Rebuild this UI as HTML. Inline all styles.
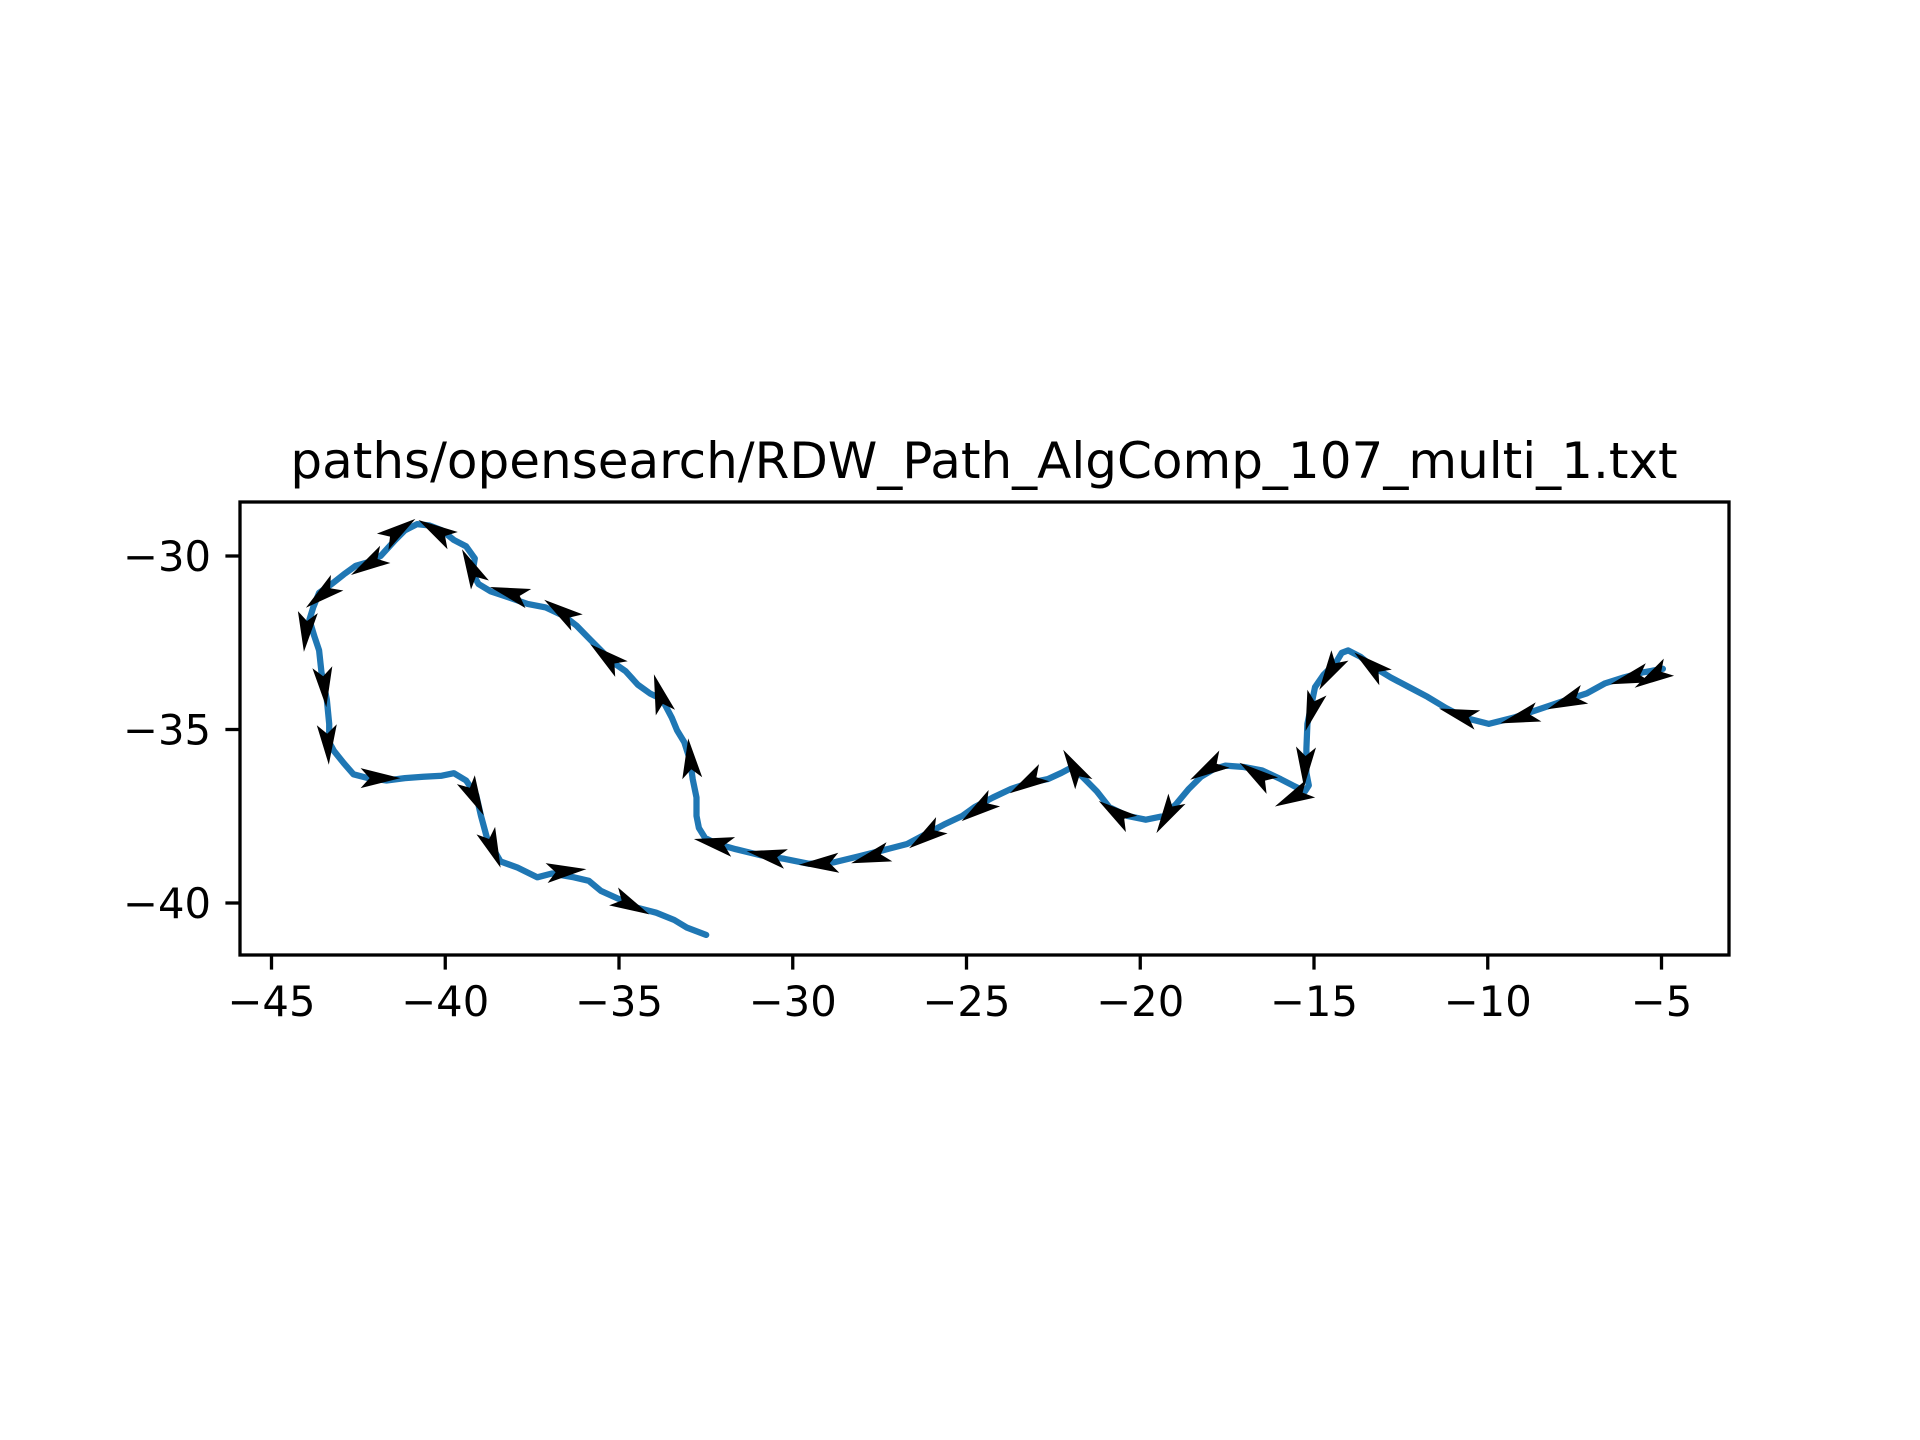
<!DOCTYPE html>
<html><head><meta charset="utf-8"><style>
html,body{margin:0;padding:0;background:#fff;}
svg{display:block;}
text{font-family:"DejaVu Sans","Liberation Sans",sans-serif;fill:#000;}
</style></head><body>
<svg id="chart" width="1920" height="1440" viewBox="0 0 1920 1440" xmlns="http://www.w3.org/2000/svg">
<rect width="1920" height="1440" fill="#fff"/>
<text x="984" y="478" font-size="50" text-anchor="middle">paths/opensearch/RDW_Path_AlgComp_107_multi_1.txt</text>
<g id="plot"></g>
<g id="axes"></g>
</svg>
<script>
const pathX=[-4.96,-5.56,-6.09,-6.62,-7.15,-7.68,-8.21,-8.74,-9.26,-9.97,-10.67,-11.20,-11.73,-12.26,-12.79,-13.32,-13.67,-14.02,-14.20,-14.37,-14.73,-14.97,-15.08,-15.19,-15.22,-15.22,-15.15,-15.26,-15.61,-15.96,-16.49,-17.02,-17.55,-17.90,-18.25,-18.60,-18.96,-19.31,-19.84,-20.37,-20.89,-21.25,-21.60,-21.95,-22.27,-22.66,-23.19,-23.71,-24.24,-24.77,-25.12,-25.65,-26.18,-26.71,-27.41,-28.12,-28.82,-29.53,-30.23,-30.94,-31.64,-32.17,-32.52,-32.70,-32.77,-32.77,-32.88,-32.95,-33.12,-33.33,-33.48,-33.76,-34.11,-34.46,-34.81,-35.17,-35.52,-35.87,-36.22,-36.58,-37.11,-37.63,-38.16,-38.69,-39.04,-39.22,-39.15,-39.40,-39.75,-40.10,-40.45,-40.81,-41.16,-41.44,-41.86,-42.22,-42.57,-42.92,-43.27,-43.63,-43.80,-43.91,-43.77,-43.63,-43.56,-43.41,-43.34,-43.34,-43.20,-42.92,-42.64,-42.22,-41.69,-41.16,-40.63,-40.10,-39.75,-39.40,-39.11,-38.97,-38.80,-38.41,-37.92,-37.35,-36.93,-36.30,-35.87,-35.52,-34.99,-34.46,-33.93,-33.41,-33.05,-32.49];
const pathY=[-33.25,-33.36,-33.50,-33.67,-33.96,-34.13,-34.31,-34.49,-34.66,-34.84,-34.66,-34.38,-34.06,-33.78,-33.50,-33.18,-32.90,-32.72,-32.79,-33.07,-33.43,-33.78,-34.31,-34.84,-35.55,-36.25,-36.61,-36.78,-36.61,-36.43,-36.18,-36.08,-36.04,-36.15,-36.36,-36.71,-37.14,-37.49,-37.60,-37.49,-37.24,-36.78,-36.43,-36.08,-36.25,-36.43,-36.54,-36.71,-36.96,-37.24,-37.49,-37.74,-38.02,-38.30,-38.48,-38.66,-38.83,-38.87,-38.73,-38.62,-38.45,-38.30,-38.13,-37.84,-37.49,-36.96,-36.43,-35.90,-35.37,-35.02,-34.66,-34.13,-33.96,-33.71,-33.32,-33.07,-32.72,-32.37,-32.01,-31.73,-31.48,-31.38,-31.20,-31.02,-30.81,-30.49,-30.07,-29.72,-29.54,-29.26,-29.12,-29.08,-29.26,-29.54,-30.00,-30.18,-30.28,-30.53,-30.81,-31.06,-31.48,-31.84,-32.30,-32.72,-33.36,-34.13,-34.84,-35.37,-35.62,-35.97,-36.29,-36.40,-36.47,-36.40,-36.36,-36.33,-36.26,-36.47,-36.89,-37.49,-38.13,-38.80,-38.98,-39.26,-39.15,-39.26,-39.36,-39.65,-39.89,-40.14,-40.28,-40.49,-40.71,-40.92];
const arrowX=[-41.33,-40.28,-42.22,-43.56,-44.01,-43.48,-43.38,-41.86,-39.15,-38.62,-36.51,-34.64,-39.26,-38.16,-36.68,-35.38,-33.83,-32.95,-32.28,-30.76,-29.25,-27.77,-26.18,-24.67,-23.26,-21.92,-20.72,-19.24,-18.07,-16.67,-15.61,-15.26,-15.08,-14.55,-13.39,-10.85,-9.09,-7.75,-5.92,-5.28];
const arrowY=[-29.26,-29.26,-30.25,-31.13,-32.19,-33.78,-35.44,-36.40,-36.96,-38.45,-39.08,-40.07,-30.32,-31.06,-31.59,-32.90,-33.96,-35.83,-38.27,-38.62,-38.87,-38.69,-38.09,-37.31,-36.54,-36.08,-37.39,-37.49,-36.15,-36.29,-36.96,-36.08,-34.49,-33.36,-33.14,-34.56,-34.66,-34.20,-33.53,-33.50];
const arrowU=[1,-1,-1,-1,-0.1,0.1,0.05,1,0.5,0.4,1,1,-0.5,-1,-1,-1,-0.3,-0.1,-1,-1,-1,-1,-1,-1,-1,-0.6,-1,-0.6,-1,-1,-1,-0.05,-0.3,-0.6,-1,-1,-1,-1,-1,-1];
const arrowV=[0.7,0.6,-0.6,-0.8,-1,-1,-1,0,-1,-1,0.1,-0.5,1,0.3,0.7,0.8,1,1,0.2,0.2,-0.05,-0.3,-0.7,-0.7,-0.6,1,0.7,-1,-0.6,0.7,-0.5,-1,-1,-1,0.8,0.3,-0.3,-0.4,-0.3,-0.6];
const xTicks=[-45,-40,-35,-30,-25,-20,-15,-10,-5];
const yTicks=[-30,-35,-40];

const L=240,R=1729,T=502,B=955;
function sx(v){return 271.5+(v+45)*34.75;}
function sy(v){return 556-(v+30)*34.7;}
const NS="http://www.w3.org/2000/svg";
const plot=document.getElementById('plot'),axes=document.getElementById('axes');

let d='';
for(let i=0;i<pathX.length;i++){d+=(i?'L':'M')+sx(pathX[i]).toFixed(1)+' '+sy(pathY[i]).toFixed(1);}
const line=document.createElementNS(NS,'path');
line.setAttribute('d',d);line.setAttribute('fill','none');line.setAttribute('stroke','#1f77b4');
line.setAttribute('stroke-width','6.25');line.setAttribute('stroke-linejoin','round');line.setAttribute('stroke-linecap','round');


plot.appendChild(line);

for(let i=0;i<arrowX.length;i++){
  const cx=sx(arrowX[i]),cy=sy(arrowY[i]);
  const dx=arrowU[i],dy=-arrowV[i];const n=Math.hypot(dx,dy);
  const ux=dx/n,uy=dy/n,px=-uy,py=ux;
  const len=40,w=10,back=31;
  const tipx=cx+ux*len/2,tipy=cy+uy*len/2;
  const bx=tipx-ux*len,by=tipy-uy*len;
  const nx=tipx-ux*back,ny=tipy-uy*back;
  const pts=[[tipx,tipy],[bx+px*w,by+py*w],[nx,ny],[bx-px*w,by-py*w]];
  const a=document.createElementNS(NS,'polygon');
  a.setAttribute('points',pts.map(p=>p[0].toFixed(1)+','+p[1].toFixed(1)).join(' '));
  a.setAttribute('fill','#000');
  
  
  plot.appendChild(a);
}

const frame=document.createElementNS(NS,'rect');
frame.setAttribute('x',L);frame.setAttribute('y',T);frame.setAttribute('width',R-L);frame.setAttribute('height',B-T);
frame.setAttribute('fill','none');frame.setAttribute('stroke','#000');frame.setAttribute('stroke-width','3.3');


axes.appendChild(frame);

xTicks.forEach(v=>{
  const x=sx(v);
  const t=document.createElementNS(NS,'line');
  t.setAttribute('x1',x);t.setAttribute('x2',x);t.setAttribute('y1',B);t.setAttribute('y2',B+14.6);
  t.setAttribute('stroke','#000');t.setAttribute('stroke-width','3.3');
  
  
  axes.appendChild(t);
  const tx=document.createElementNS(NS,'text');
  tx.setAttribute('x',x);tx.setAttribute('y',B+61);tx.setAttribute('font-size','41.7');tx.setAttribute('text-anchor','middle');
  tx.textContent='\u2212'+Math.abs(v);
  
  
  axes.appendChild(tx);
});
yTicks.forEach(v=>{
  const y=sy(v);
  const t=document.createElementNS(NS,'line');
  t.setAttribute('x1',L-14.6);t.setAttribute('x2',L);t.setAttribute('y1',y);t.setAttribute('y2',y);
  t.setAttribute('stroke','#000');t.setAttribute('stroke-width','3.3');
  
  
  axes.appendChild(t);
  const tx=document.createElementNS(NS,'text');
  tx.setAttribute('x',L-29);tx.setAttribute('y',y+15);tx.setAttribute('font-size','41.7');tx.setAttribute('text-anchor','end');
  tx.textContent='\u2212'+Math.abs(v);
  
  
  axes.appendChild(tx);
});
</script>
</body></html>
